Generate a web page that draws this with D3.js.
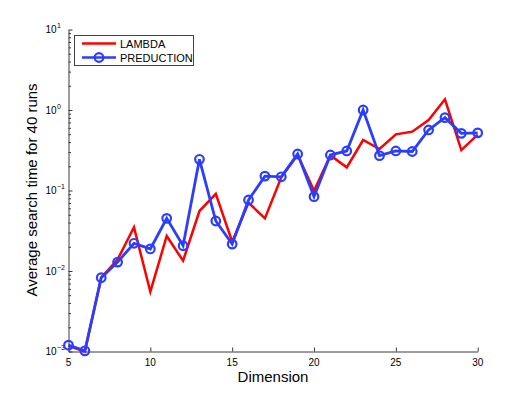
<!DOCTYPE html>
<html>
<head>
<meta charset="utf-8">
<script src="https://cdn.jsdelivr.net/npm/d3@7"></script>
<style>
  body { margin: 0; background: #fff; }
  text { font-family: "Liberation Sans", Arial, sans-serif; fill: #000; }
</style>
</head>
<body>
<div id="chart"></div>
<script>
// chart values
let dimensions = d3.range(5, 31);
let lambdaTimes = [0.00118, 0.00100, 0.0083, 0.0139, 0.0349, 0.00553, 0.0272, 0.0134, 0.0556, 0.0906,
                   0.0231, 0.0705, 0.0451, 0.146, 0.276, 0.0995, 0.272, 0.194, 0.424, 0.328,
                   0.499, 0.538, 0.751, 1.36, 0.318, 0.495];
let predTimes = [0.00120, 0.00102, 0.00826, 0.0129, 0.0221, 0.0188, 0.0451, 0.0206, 0.244, 0.0418,
                 0.0216, 0.0762, 0.151, 0.148, 0.284, 0.0838, 0.276, 0.310, 1.0, 0.271,
                 0.310, 0.305, 0.565, 0.803, 0.513, 0.52];
let xTicks = [5, 10, 15, 20, 25, 30];
let yExponents = [-3, -2, -1, 0, 1];
let seriesNames = ["LAMBDA", "PREDUCTION"];

let width = 527, height = 396;

let svg = d3.select("#chart")
    .append("svg")
    .attr("width", width)
    .attr("height", height);

let x = d3.scaleLinear().domain([5, 30]).range([68.5, 477.7]);
let y = d3.scaleLog().domain([1e-3, 10]).range([351.5, 29.5]);

let axisColor = "#3a3a3a";

// y axis (ticks point inward)
let minor = [];
yExponents.slice(0, -1).forEach(function(e) {
    for (let k = 2; k <= 9; k++) minor.push(k * Math.pow(10, e));
});
svg.append("g")
    .attr("transform", `translate(${x(5)},0)`)
    .call(d3.axisLeft(y).tickValues(minor).tickSize(-2.5).tickFormat(""))
    .call(g => g.select(".domain").remove())
    .selectAll("line").attr("stroke", axisColor);
let yAxis = svg.append("g")
    .attr("transform", `translate(${x(5)},0)`)
    .call(d3.axisLeft(y).tickValues(yExponents.map(e => Math.pow(10, e))).tickSizeInner(-4).tickSizeOuter(0).tickFormat(""));
yAxis.select(".domain").attr("stroke", axisColor);
yAxis.selectAll("line").attr("stroke", axisColor);

// y tick labels as 10^n
yExponents.forEach(function(e) {
    svg.append("text")
        .attr("x", 56.5)
        .attr("y", y(Math.pow(10, e)) + 3.5)
        .style("font-size", "10px")
        .style("text-anchor", "end")
        .text("10");
    svg.append("text")
        .attr("x", 57)
        .attr("y", y(Math.pow(10, e)) - 1.5)
        .style("font-size", "7px")
        .text(e < 0 ? "\u2212" + (-e) : "" + e);
});

// x axis
let xAxis = svg.append("g")
    .attr("transform", `translate(0,${y(1e-3)})`)
    .call(d3.axisBottom(x).tickValues(xTicks).tickSizeInner(-4).tickSizeOuter(0).tickFormat(""));
xAxis.select(".domain").attr("stroke", axisColor);
xAxis.selectAll("line").attr("stroke", axisColor);

svg.selectAll(".xlab")
    .data(xTicks)
    .enter()
    .append("text")
    .attr("class", "xlab")
    .attr("x", d => x(d))
    .attr("y", 366)
    .style("font-size", "10px")
    .style("text-anchor", "middle")
    .text(d => d);

// axis titles
svg.append("text")
    .attr("x", 273)
    .attr("y", 382)
    .style("font-size", "15px")
    .style("text-anchor", "middle")
    .text("Dimension");

svg.append("text")
    .attr("transform", "translate(37,190) rotate(-90)")
    .style("font-size", "15px")
    .style("text-anchor", "middle")
    .text("Average search time for 40 runs");

// lines
let line = d3.line()
    .x(d => x(d[0]))
    .y(d => y(d[1]));

let lambdaData = d3.zip(dimensions, lambdaTimes);
let predData = d3.zip(dimensions, predTimes);

let red = "#ff0000";
let blue = "#2b3dff";

svg.append("path")
    .datum(lambdaData)
    .attr("d", line)
    .attr("fill", "none")
    .attr("stroke", red)
    .attr("stroke-width", 2.5);

svg.append("path")
    .datum(predData)
    .attr("d", line)
    .attr("fill", "none")
    .attr("stroke", blue)
    .attr("stroke-width", 2.8);

svg.selectAll(".pt")
    .data(predData)
    .enter()
    .append("circle")
    .attr("class", "pt")
    .attr("cx", d => x(d[0]))
    .attr("cy", d => y(d[1]))
    .attr("r", 4.3)
    .attr("fill", "none")
    .attr("stroke", blue)
    .attr("stroke-width", 2.2);

// legend
let legend = svg.append("g");
legend.append("rect")
    .attr("x", 74.5)
    .attr("y", 35.5)
    .attr("width", 119)
    .attr("height", 30)
    .attr("fill", "#fff")
    .attr("stroke", "#444")
    .attr("stroke-width", 1);

let legendY = [43.5, 57.5];
let legendColors = [red, blue];
seriesNames.forEach(function(name, i) {
    legend.append("line")
        .attr("x1", 82).attr("x2", 116)
        .attr("y1", legendY[i]).attr("y2", legendY[i])
        .attr("stroke", legendColors[i])
        .attr("stroke-width", 2.5);
    if (i == 1) {
        legend.append("circle")
            .attr("cx", 99).attr("cy", legendY[i])
            .attr("r", 4.3)
            .attr("fill", "none")
            .attr("stroke", blue)
            .attr("stroke-width", 2.2);
    }
    legend.append("text")
        .attr("x", 120)
        .attr("y", legendY[i] + 4)
        .style("font-size", "11px")
        .text(name);
});
</script>
</body>
</html>
